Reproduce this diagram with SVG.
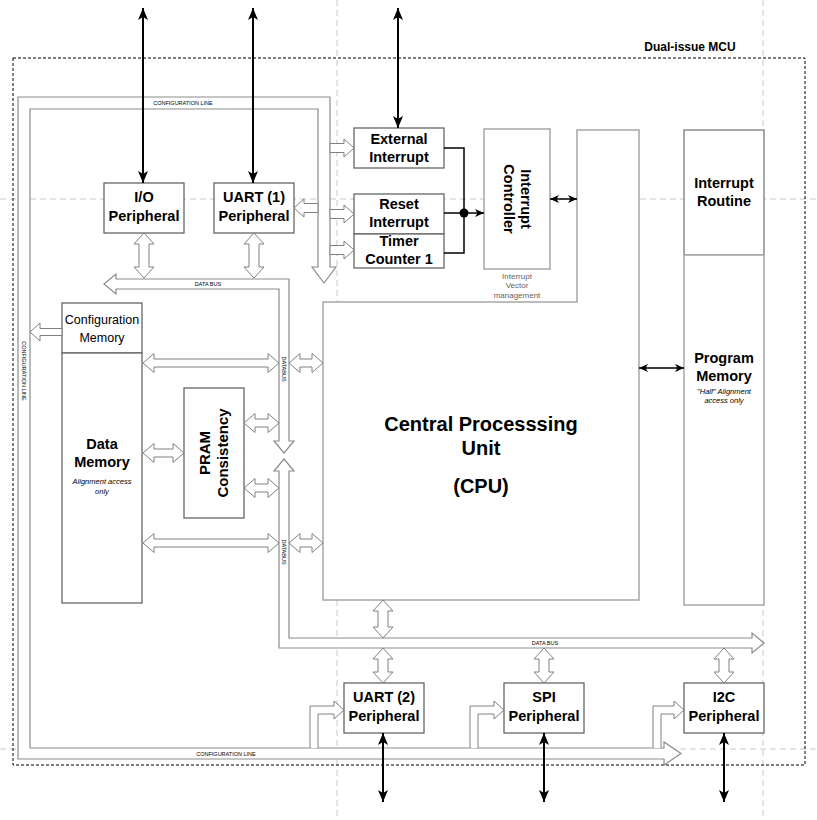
<svg xmlns="http://www.w3.org/2000/svg" width="817" height="820" viewBox="0 0 817 820">
<style>
.guide{stroke:#c8c8c8;stroke-width:1;stroke-dasharray:6 4;fill:none}
.mcu{stroke:#000;stroke-width:1;stroke-dasharray:3 2;fill:none}
.box{fill:#fff;stroke:#666;stroke-width:1.3}
.lbox{fill:#fff;stroke:#a6a6a6;stroke-width:1.5}
.ha{fill:#fff;stroke:#808080;stroke-width:1}
.bus{fill:#fff;stroke:#8c8c8c;stroke-width:1.2}
.blk{stroke:#000;stroke-width:2;fill:none}
.thin{stroke:#000;stroke-width:1.5;fill:none}
text{font-family:"Liberation Sans",Arial,Helvetica,sans-serif;fill:#000;text-anchor:middle}
.t{font-weight:bold;font-size:14.5px}
.cpu{font-weight:bold;font-size:20px}
.reg{font-size:12.5px}
.it{font-style:italic;font-size:7.5px}
.tiny{font-size:5.5px}
.note{font-size:8px;fill:#6b6157}
</style>
<defs>
<marker id="ab" viewBox="0 0 12 10" refX="12" refY="5" markerWidth="12" markerHeight="10" markerUnits="userSpaceOnUse" orient="auto-start-reverse"><path d="M0,0 L12,5 L0,10 L3,5 z" fill="#000"/></marker>
<marker id="as" viewBox="0 0 9 8" refX="9" refY="4" markerWidth="9" markerHeight="8" markerUnits="userSpaceOnUse" orient="auto-start-reverse"><path d="M0,0 L9,4 L0,8 L2.5,4 z" fill="#000"/></marker>
</defs>

<g id="guides">
<line class="guide" x1="337" y1="0" x2="337" y2="820"/>
<line class="guide" x1="763" y1="0" x2="763" y2="820"/>
<line class="guide" x1="0" y1="199" x2="817" y2="199"/>
<line class="guide" x1="0" y1="749" x2="817" y2="749"/>
</g>

<g id="mcu">
<rect class="mcu" x="13" y="58" width="792" height="707"/>
<text x="690" y="51" style="font-weight:bold;font-size:12px">Dual-issue MCU</text>
</g>

<g id="buses">
<polygon id="config-line" class="bus" points="324,283 336,267 330,267 330,97 18,97 18,759 664,759 664,765 681,753.5 664,742 664,748 30,748 30,109 318,109 318,267 312,267"/>
<polygon id="data-bus-top" class="bus" points="104,284 116,274 116,279 289,279 289,441 294,441 284,453 274,441 279,441 279,289 116,289 116,294"/>
<polygon id="data-bus-bottom" class="bus" points="284,459 294,471 289,471 289,638 752,638 752,633 764,643 752,653 752,648 279,648 279,471 274,471"/>
<text class="tiny" x="183" y="105">CONFIGURATION LINE</text>
<text class="tiny" x="226" y="756">CONFIGURATION LINE</text>
<text class="tiny" transform="translate(22,371) rotate(90)">CONFIGURATION LINE</text>
<text class="tiny" x="208" y="286">DATA BUS</text>
<text class="tiny" x="545" y="645">DATA BUS</text>
<text class="tiny" transform="translate(282,369) rotate(90)">DATABUS</text>
<text class="tiny" transform="translate(282,552) rotate(90)">DATABUS</text>
</g>

<g id="cpu">
<polygon class="lbox" points="577,130 639,130 639,600 323,600 323,302 577,302"/>
<text class="cpu" x="481" y="431">Central Processsing</text>
<text class="cpu" x="481" y="455">Unit</text>
<text class="cpu" x="481" y="493">(CPU)</text>
</g>

<g id="io-peripheral"><rect class="box" x="104" y="183" width="80" height="50"/><text class="t" x="144" y="202">I/O</text><text class="t" x="144" y="221">Peripheral</text></g>
<g id="uart1"><rect class="box" x="214" y="183" width="80" height="50"/><text class="t" x="254" y="202">UART (1)</text><text class="t" x="254" y="221">Peripheral</text></g>
<g id="external-interrupt"><rect class="box" x="354" y="128" width="90" height="40"/><text class="t" x="399" y="144">External</text><text class="t" x="399" y="162">Interrupt</text></g>
<g id="reset-interrupt"><rect class="box" x="354" y="194" width="90" height="40"/><text class="t" x="399" y="209">Reset</text><text class="t" x="399" y="227">Interrupt</text></g>
<g id="timer-counter"><rect class="box" x="354" y="234" width="90" height="34"/><text class="t" x="399" y="246">Timer</text><text class="t" x="399" y="264">Counter 1</text></g>
<g id="interrupt-controller"><rect class="lbox" x="484" y="129" width="66" height="140"/>
<text class="t" transform="translate(517,199) rotate(90)" y="-4">Interrupt</text>
<text class="t" transform="translate(517,199) rotate(90)" y="13">Controller</text>
<text class="note" x="517" y="279">Interrupt</text><text class="note" x="517" y="288">Vector</text><text class="note" x="517" y="298">management</text></g>
<g id="interrupt-routine"><rect class="box" x="684" y="130" width="80" height="125" style="stroke:#7a7a7a"/><text class="t" x="724" y="188">Interrupt</text><text class="t" x="724" y="206">Routine</text></g>
<g id="program-memory"><rect class="lbox" x="684" y="255" width="80" height="350"/><text class="t" x="724" y="363">Program</text><text class="t" x="724" y="381">Memory</text><text class="it" x="724" y="394">"Half" Alignment</text><text class="it" x="724" y="403">access only</text></g>
<g id="configuration-memory"><rect class="box" x="62" y="303" width="80" height="50"/><text class="reg" x="102" y="324">Configuration</text><text class="reg" x="102" y="342">Memory</text></g>
<g id="data-memory"><rect class="box" x="62" y="353" width="80" height="250"/><text class="t" x="102" y="449">Data</text><text class="t" x="102" y="467">Memory</text><text class="it" x="102" y="484">Alignment access</text><text class="it" x="102" y="494">only</text></g>
<g id="pram"><rect class="box" x="184" y="388" width="60" height="130"/>
<text class="t" style="font-size:15px" transform="translate(214,453) rotate(-90)" y="-4">PRAM</text>
<text class="t" style="font-size:15px" transform="translate(214,453) rotate(-90)" y="14">Consistency</text></g>
<g id="uart2"><rect class="box" x="344" y="683" width="80" height="50"/><text class="t" x="384" y="702">UART (2)</text><text class="t" x="384" y="721">Peripheral</text></g>
<g id="spi"><rect class="box" x="504" y="683" width="80" height="50"/><text class="t" x="544" y="702">SPI</text><text class="t" x="544" y="721">Peripheral</text></g>
<g id="i2c"><rect class="box" x="684" y="683" width="80" height="50"/><text class="t" x="724" y="702">I2C</text><text class="t" x="724" y="721">Peripheral</text></g>

<g id="connectors">
<polygon class="ha" points="144,233 154,244 149,244 149,267 154,267 144,278 134,267 139,267 139,244 134,244"/>
<polygon class="ha" points="254,233 264,244 259,244 259,267 264,267 254,278 244,267 249,267 249,244 244,244"/>
<polygon class="ha" points="383,600 393,611 388,611 388,627 393,627 383,638 373,627 378,627 378,611 373,611"/>
<polygon class="ha" points="383,648 393,659 388,659 388,672 393,672 383,683 373,672 378,672 378,659 373,659"/>
<polygon class="ha" points="544,648 554,659 549,659 549,672 554,672 544,683 534,672 539,672 539,659 534,659"/>
<polygon class="ha" points="724,648 734,659 729,659 729,672 734,672 724,683 714,672 719,672 719,659 714,659"/>
<polygon class="ha" points="143,363 154,353.5 154,359 268,359 268,353.5 279,363 268,372.5 268,367 154,367 154,372.5"/>
<polygon class="ha" points="143,453 154,443.5 154,449 173,449 173,443.5 184,453 173,462.5 173,457 154,457 154,462.5"/>
<polygon class="ha" points="244,423 255,413.5 255,419 268,419 268,413.5 279,423 268,432.5 268,427 255,427 255,432.5"/>
<polygon class="ha" points="244,488 255,478.5 255,484 268,484 268,478.5 279,488 268,497.5 268,492 255,492 255,497.5"/>
<polygon class="ha" points="143,543 154,533.5 154,539 268,539 268,533.5 279,543 268,552.5 268,547 154,547 154,552.5"/>
<polygon class="ha" points="289,363 300,353.5 300,359 312,359 312,353.5 323,363 312,372.5 312,367 300,367 300,372.5"/>
<polygon class="ha" points="289,543 300,533.5 300,539 312,539 312,533.5 323,543 312,552.5 312,547 300,547 300,552.5"/>
<polygon class="ha" points="330,143.5 344,143.5 344,139 354,148 344,157 344,152.5 330,152.5"/>
<polygon class="ha" points="330,209.5 344,209.5 344,205 354,214 344,223 344,218.5 330,218.5"/>
<polygon class="ha" points="330,245.5 344,245.5 344,241 354,250 344,259 344,254.5 330,254.5"/>
<polygon class="ha" points="318,203.5 304,203.5 304,199 294,208 304,217 304,212.5 318,212.5"/>
<polygon class="ha" points="62,328.5 40,328.5 40,323 30,332 40,341 40,335.5 62,335.5"/>
<path class="ha" d="M310,748 L310,706 L334,706 L334,701 L344,710 L334,719 L334,714 L318,714 L318,748"/>
<path class="ha" d="M470,748 L470,706 L494,706 L494,701 L504,710 L494,719 L494,714 L478,714 L478,748"/>
<path class="ha" d="M653,748 L653,706 L674,706 L674,701 L684,710 L674,719 L674,714 L661,714 L661,748"/>

<line class="blk" x1="143" y1="8" x2="143" y2="183" marker-start="url(#ab)" marker-end="url(#ab)"/>
<line class="blk" x1="253" y1="8" x2="253" y2="183" marker-start="url(#ab)" marker-end="url(#ab)"/>
<line class="blk" x1="398" y1="8" x2="398" y2="128" marker-start="url(#ab)" marker-end="url(#ab)"/>
<line class="blk" x1="383" y1="733" x2="383" y2="802" marker-start="url(#ab)" marker-end="url(#ab)"/>
<line class="blk" x1="544" y1="733" x2="544" y2="802" marker-start="url(#ab)" marker-end="url(#ab)"/>
<line class="blk" x1="724" y1="733" x2="724" y2="802" marker-start="url(#ab)" marker-end="url(#ab)"/>
<polyline class="thin" points="444,148 464,148 464,253 444,253"/>
<line class="thin" x1="444" y1="213" x2="484" y2="213" marker-end="url(#as)"/>
<circle cx="464" cy="213" r="4.5" fill="#000"/>
<line class="thin" x1="550" y1="199" x2="577" y2="199" marker-start="url(#as)" marker-end="url(#as)"/>
<line class="thin" x1="639" y1="368" x2="684" y2="368" marker-start="url(#as)" marker-end="url(#as)"/>
</g>
</svg>
